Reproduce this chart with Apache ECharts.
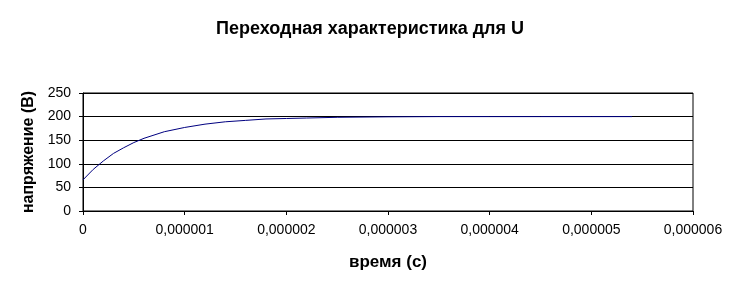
<!DOCTYPE html>
<html>
<head>
<meta charset="utf-8">
<script src="https://cdn.jsdelivr.net/npm/echarts@6/dist/echarts.min.js"></script>
<style>
html,body{margin:0;padding:0;background:#fff;}
#c{width:740px;height:291px;}
</style>
</head>
<body>
<div id="c"></div>
<script>
var titleText = 'Переходная характеристика для U';
var xName = 'время (с)';
var yName = 'напряжение (В)';
var times = [0, 0.0000001, 0.0000002, 0.0000003, 0.0000004, 0.0000005, 0.0000006, 0.0000008,
  0.000001, 0.0000012, 0.0000014, 0.0000016, 0.0000018, 0.000002, 0.0000022, 0.0000025,
  0.000003, 0.0000035, 0.000004, 0.0000045, 0.000005, 0.0000054];
var voltage = [66, 88, 106, 122, 134, 145, 154, 168,
  177, 184, 189, 192, 195, 196, 197, 198.5,
  199.5, 200, 200, 200, 200, 200];
var yTicks = [0, 50, 100, 150, 200, 250];
var xTicks = [0, 0.000001, 0.000002, 0.000003, 0.000004, 0.000005, 0.000006];

var data = times.map(function (t, i) { return [t, voltage[i]]; });
var font = 'Liberation Sans, Arial, sans-serif';
var chart = echarts.init(document.getElementById('c'), null, {renderer: 'canvas'});
chart.setOption({
  animation: false,
  backgroundColor: '#fff',
  title: {
    text: titleText, left: 'center', top: 15,
    textStyle: {fontFamily: font, fontSize: 18, fontWeight: 'bold', color: '#000'}
  },
  grid: {left: 83, right: 47, top: 93, bottom: 80, show: true, borderColor: '#000', borderWidth: 1},
  xAxis: {
    type: 'value', min: xTicks[0], max: xTicks[xTicks.length - 1], interval: 0.000001,
    name: xName, nameLocation: 'middle', nameGap: 43,
    nameTextStyle: {fontFamily: font, fontSize: 17, fontWeight: 'bold', color: '#000'},
    axisLine: {show: true, lineStyle: {color: '#000', width: 1}},
    axisTick: {show: true, length: 4, lineStyle: {color: '#000'}},
    splitLine: {show: false},
    axisLabel: {
      fontFamily: font, fontSize: 14, color: '#000', margin: 12,
      formatter: function (v) { return v === 0 ? '0' : v.toFixed(6).replace('.', ','); }
    }
  },
  yAxis: {
    type: 'value', min: yTicks[0], max: yTicks[yTicks.length - 1], interval: 50,
    name: yName, nameLocation: 'middle', nameGap: 40,
    nameTextStyle: {fontFamily: font, fontSize: 16, fontWeight: 'bold', color: '#000'},
    axisLine: {show: true, lineStyle: {color: '#000', width: 1}},
    axisTick: {show: true, length: 4, lineStyle: {color: '#000'}},
    splitLine: {show: true, lineStyle: {color: '#000', width: 1}},
    axisLabel: {fontFamily: font, fontSize: 14, color: '#000', margin: 12}
  },
  series: [{
    type: 'line', data: data, showSymbol: false, symbol: 'none',
    lineStyle: {color: '#000080', width: 1}, smooth: false
  }]
});
</script>
</body>
</html>
